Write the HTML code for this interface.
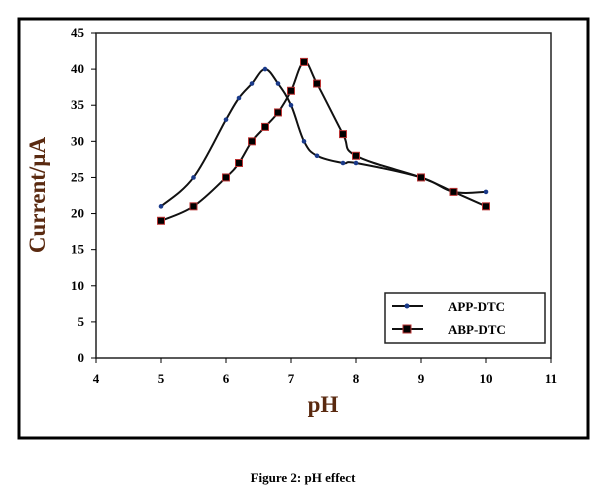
<!DOCTYPE html>
<html><head><meta charset="utf-8"><style>
body{margin:0;background:#fff;width:607px;height:495px;overflow:hidden;font-family:"Liberation Serif",serif}
</style></head><body>
<svg width="607" height="495" xmlns="http://www.w3.org/2000/svg">
<rect x="19" y="19" width="569" height="419" fill="none" stroke="#000" stroke-width="3"/>
<g id="g"></g>
<text x="45" y="195" transform="rotate(-90 45 195)" text-anchor="middle" font-size="23" font-weight="bold" fill="#5a2a10">Current/µA</text>
<text x="323" y="412" text-anchor="middle" font-size="23" font-weight="bold" fill="#5a2a10">pH</text>
<text x="303" y="482" text-anchor="middle" font-size="13" font-weight="bold">Figure 2: pH effect</text>
</svg>
<script>
const xs=[5,5.5,6,6.2,6.4,6.6,6.8,7,7.2,7.4,7.8,8,9,9.5,10];
const app=[21,25,33,36,38,40,38,35,30,28,27,27,25,23,23];
const abp=[19,21,25,27,30,32,34,37,41,38,31,28,25,23,21];
const xTicks=[4,5,6,7,8,9,10,11];
const yTicks=[0,5,10,15,20,25,30,35,40,45];
const NS="http://www.w3.org/2000/svg";
const X=v=>96+(v-4)*65, Y=v=>358-v*(325/45);
const g=document.getElementById('g');
function mk(t,a,p){const e=document.createElementNS(NS,t);for(const k in a)e.setAttribute(k,a[k]);(p||g).appendChild(e);return e;}
let r=mk('rect',{x:96,y:33,width:455,height:325,fill:'none',stroke:'#222','stroke-width':1.5});


xTicks.forEach(v=>{mk('line',{x1:X(v),x2:X(v),y1:358,y2:363,stroke:'#000'});
let t=mk('text',{x:X(v),y:383,'text-anchor':'middle','font-size':13,'font-weight':'bold'});t.textContent=v;

});
yTicks.forEach(v=>{mk('line',{x1:91,x2:96,y1:Y(v),y2:Y(v),stroke:'#000'});
let t=mk('text',{x:84,y:Y(v)+4,'text-anchor':'end','font-size':13,'font-weight':'bold'});t.textContent=v;

});
function smooth(pts){let d='M'+pts[0][0]+','+pts[0][1];const k=0.18;
for(let i=0;i<pts.length-1;i++){const p0=pts[i-1]||pts[i],p1=pts[i],p2=pts[i+1],p3=pts[i+2]||p2;
const c1=[p1[0]+(p2[0]-p0[0])*k,p1[1]+(p2[1]-p0[1])*k],c2=[p2[0]-(p3[0]-p1[0])*k,p2[1]-(p3[1]-p1[1])*k];
d+=' C'+c1+' '+c2+' '+p2;}return d;}
function series(d,name,sq){
let p=mk('path',{d:smooth(xs.map((x,i)=>[X(x),Y(d[i])])),fill:'none',stroke:'#111','stroke-width':2});


xs.forEach((x,i)=>{let m=sq?mk('rect',{x:X(x)-3.5,y:Y(d[i])-3.5,width:7,height:7,fill:'#000',stroke:'#b33','stroke-width':1}):mk('circle',{cx:X(x),cy:Y(d[i]),r:2.3,fill:'#1a3a8a'});

});}
series(app,'app-dtc',false);series(abp,'abp-dtc',true);
let lg=mk('g',{});


mk('rect',{x:385,y:293,width:160,height:50,fill:'#fff',stroke:'#222','stroke-width':1.5},lg);
mk('line',{x1:392,x2:423,y1:306,y2:306,stroke:'#111','stroke-width':2},lg);
mk('circle',{cx:407,cy:306,r:2.5,fill:'#1a3a8a'},lg);
mk('line',{x1:392,x2:423,y1:329,y2:329,stroke:'#111','stroke-width':2},lg);
mk('rect',{x:403,y:325,width:8,height:8,fill:'#000',stroke:'#b33'},lg);
let t1=mk('text',{x:448,y:311,'font-size':13,'font-weight':'bold'},lg);t1.textContent='APP-DTC';


let t2=mk('text',{x:448,y:334,'font-size':13,'font-weight':'bold'},lg);t2.textContent='ABP-DTC';


</script>
</body></html>
